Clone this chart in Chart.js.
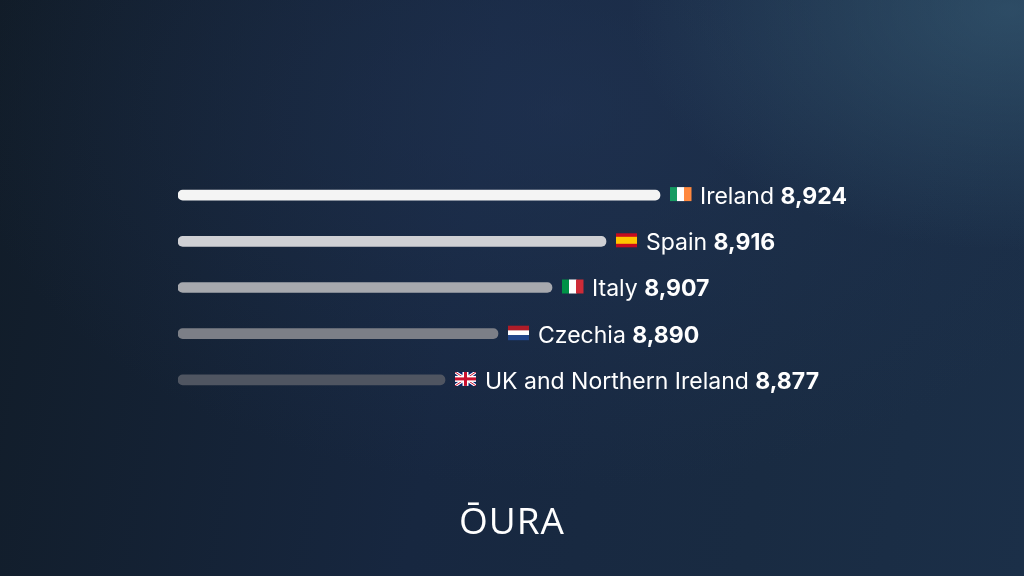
<!DOCTYPE html>
<html>
<head>
<meta charset="utf-8">
<script src="https://cdn.jsdelivr.net/npm/chart.js@4/dist/chart.umd.min.js"></script>
<style>
  html, body { margin: 0; padding: 0; }
  body {
    width: 1024px; height: 576px; overflow: hidden;
    background:
      radial-gradient(ellipse 380px 240px at 1010px 10px, rgba(60,100,125,0.55), rgba(0,0,0,0) 100%),
      radial-gradient(ellipse 600px 380px at 560px 110px, rgba(35,55,90,0.5), rgba(0,0,0,0) 100%),
      linear-gradient(100deg, #111c28 0%, #172740 45%, #192b42 75%, #1b2f48 100%);
    position: relative;
  }
  #wrap { position: absolute; left: 0; top: 0; width: 1024px; height: 576px; }
  #logo {
    position: absolute; left: 0; width: 1024px; top: 494px; text-align: center;
    color: #fff; font-family: "Open Sans", sans-serif; font-weight: 400; font-size: 37px; letter-spacing: 1px;
  }
</style>
</head>
<body>
<div id="wrap"><canvas id="myChart" width="1024" height="576"></canvas></div>
<div id="logo">ŌURA</div>
<script>
const countries = ['Ireland', 'Spain', 'Italy', 'Czechia', 'UK and Northern Ireland'];
const scores = [8924, 8916, 8907, 8890, 8877];
// bars are drawn by rank, not to scale (lengths)
const barLengths = [482, 428, 374, 320, 267];
const barColors = ['#f4f4f4', '#cfd0d4', '#a7a9ae', '#7c7f87', '#4f5561'];
const flags = ['ie', 'es', 'it', 'nl', 'uk'];

function drawFlag(ctx, code, x, y, w, h) {
  ctx.save();
  if (code === 'ie' || code === 'it') {
    const cols = code === 'ie' ? ['#169b62', '#ffffff', '#ff883e'] : ['#009246', '#ffffff', '#ce2b37'];
    cols.forEach((c, i) => { ctx.fillStyle = c; ctx.fillRect(x + i * w / 3, y, w / 3 + 0.5, h); });
  } else if (code === 'es') {
    ctx.fillStyle = '#c60b1e'; ctx.fillRect(x, y, w, h);
    ctx.fillStyle = '#ffc400'; ctx.fillRect(x, y + h / 4, w, h / 2);
  } else if (code === 'nl') {
    ['#ae1c28', '#ffffff', '#21468b'].forEach((c, i) => { ctx.fillStyle = c; ctx.fillRect(x, y + i * h / 3, w, h / 3 + 0.5); });
  } else {
    ctx.fillStyle = '#012169'; ctx.fillRect(x, y, w, h);
    ctx.beginPath(); ctx.rect(x, y, w, h); ctx.clip();
    ctx.strokeStyle = '#fff'; ctx.lineWidth = 3;
    ctx.beginPath(); ctx.moveTo(x, y); ctx.lineTo(x + w, y + h); ctx.moveTo(x + w, y); ctx.lineTo(x, y + h); ctx.stroke();
    ctx.strokeStyle = '#c8102e'; ctx.lineWidth = 1;
    ctx.stroke();
    ctx.fillStyle = '#fff'; ctx.fillRect(x + w / 2 - 3, y, 6, h); ctx.fillRect(x, y + h / 2 - 3, w, 6);
    ctx.fillStyle = '#c8102e'; ctx.fillRect(x + w / 2 - 1.5, y, 3, h); ctx.fillRect(x, y + h / 2 - 1.5, w, 3);
  }
  ctx.restore();
}

const labelPlugin = {
  id: 'labels',
  afterDatasetsDraw(chart) {
    const ctx = chart.ctx;
    const meta = chart.getDatasetMeta(0);
    meta.data.forEach((bar, i) => {
      const y = bar.y;
      let x = bar.x + 10;
      drawFlag(ctx, flags[i], x, y - 8, 21, 14);
      x += 30;
      ctx.save();
      ctx.fillStyle = '#ffffff';
      ctx.textBaseline = 'middle';
      ctx.font = '400 23px Inter, "Noto Sans", sans-serif';
      ctx.fillText(countries[i], x, y + 2);
      x += ctx.measureText(countries[i] + ' ').width;
      ctx.font = '700 23px Inter, "Noto Sans", sans-serif';
      ctx.fillText(scores[i].toLocaleString('en-US'), x, y + 2);
      ctx.restore();
    });
  }
};

new Chart(document.getElementById('myChart').getContext('2d'), {
  type: 'bar',
  data: {
    labels: countries,
    datasets: [{
      data: barLengths,
      backgroundColor: barColors,
      borderRadius: 6,
      borderSkipped: false,
      barThickness: 10
    }]
  },
  options: {
    indexAxis: 'y',
    responsive: false,
    animation: false,
    layout: { padding: { left: 178, right: 346, top: 172, bottom: 173 } },
    plugins: { legend: { display: false }, tooltip: { enabled: false } },
    scales: {
      x: { display: false, min: 0, max: 500 },
      y: { display: false }
    }
  },
  plugins: [labelPlugin]
});
</script>
</body>
</html>
